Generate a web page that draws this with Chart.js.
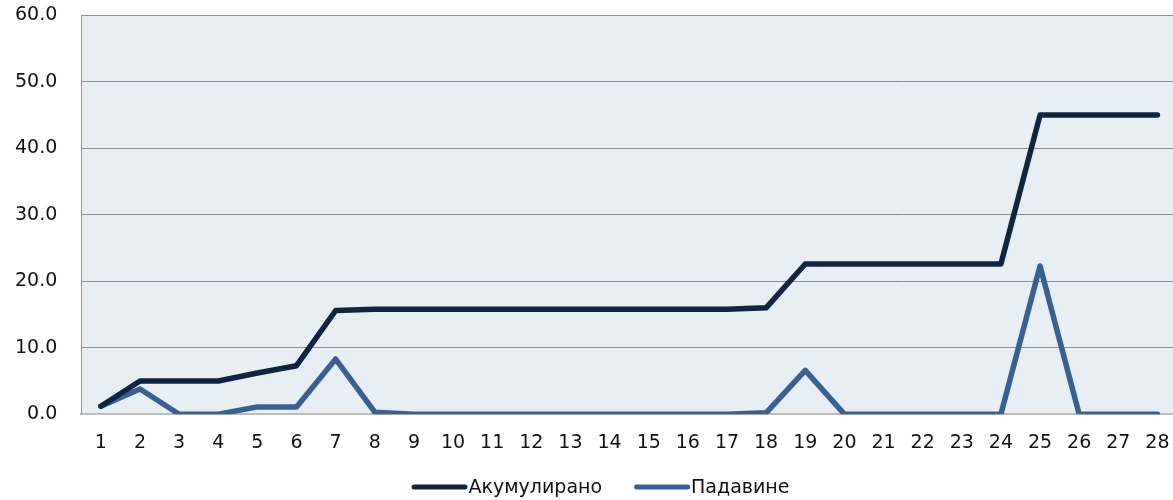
<!DOCTYPE html>
<html>
<head>
<meta charset="utf-8">
<script src="https://cdn.jsdelivr.net/npm/chart.js@4/dist/chart.umd.min.js"></script>
<style>
html,body{margin:0;padding:0;background:#fff;overflow:hidden;}
#wrap{width:1177px;height:500px;position:relative;}
</style>
</head>
<body>
<div id="wrap"><canvas id="c"></canvas></div>
<script>
const days = ['1','2','3','4','5','6','7','8','9','10','11','12','13','14','15','16','17','18','19','20','21','22','23','24','25','26','27','28'];
const accumulated = [1.2,5.0,5.0,5.0,6.2,7.3,15.6,15.8,15.8,15.8,15.8,15.8,15.8,15.8,15.8,15.8,15.8,16.0,22.6,22.6,22.6,22.6,22.6,22.6,45.0,45.0,45.0,45.0];
const precipitation = [1.2,3.8,0,0,1.1,1.1,8.3,0.3,0,0,0,0,0,0,0,0,0,0.2,6.6,0,0,0,0,0,22.3,0,0,0];
const seriesNames = ['Акумулирано','Падавине'];
const seriesColors = ['#10253f','#386092'];
const yTicks = [0,10,20,30,40,50,60];

const bgPlugin = {
  id:'plotBg',
  beforeDraw(chart){
    const {ctx, chartArea:a} = chart;
    ctx.save();
    ctx.fillStyle = '#e8eff4';
    ctx.fillRect(a.left, a.top, a.right - a.left, a.bottom - a.top);
    ctx.restore();
  }
};

// Legend drawn from the chart's own datasets
const legendPlugin = {
  id:'lineLegend',
  afterDraw(chart){
    const ctx = chart.ctx;
    const sample = 56, textGap = 1, itemGap = 32, y = 487;
    ctx.save();
    ctx.font = '19px "DejaVu Sans"';
    ctx.textBaseline = 'middle';
    const items = chart.data.datasets.map(d => ({label:d.label, color:d.borderColor, w:ctx.measureText(d.label).width}));
    let total = 0;
    items.forEach((it,i) => { total += sample + textGap + it.w + (i < items.length-1 ? itemGap : 0); });
    let x = chart.width/2 + 12 - total/2;
    items.forEach(it => {
      ctx.strokeStyle = it.color;
      ctx.lineWidth = 5;
      ctx.lineCap = 'round';
      ctx.beginPath();
      ctx.moveTo(x + 2.5, y);
      ctx.lineTo(x + sample - 2.5, y);
      ctx.stroke();
      x += sample + textGap;
      ctx.fillStyle = '#111';
      ctx.fillText(it.label, x, y + 1);
      x += it.w + itemGap;
    });
    ctx.restore();
  }
};

new Chart(document.getElementById('c'), {
  type:'line',
  data:{
    labels: days,
    datasets:[
      {label:seriesNames[0], data:accumulated, borderColor:seriesColors[0], backgroundColor:seriesColors[0], borderWidth:5.5, pointRadius:0, tension:0, borderCapStyle:'round', borderJoinStyle:'round'},
      {label:seriesNames[1], data:precipitation, borderColor:seriesColors[1], backgroundColor:seriesColors[1], borderWidth:5.5, pointRadius:0, tension:0, borderCapStyle:'round', borderJoinStyle:'round'}
    ]
  },
  plugins:[bgPlugin, legendPlugin],
  options:{
    responsive:true,
    maintainAspectRatio:false,
    animation:false,
    layout:{padding:{top:0,right:0,left:11,bottom:46}},
    plugins:{
      tooltip:{enabled:false},
      legend:{display:false}
    },
    scales:{
      x:{
        offset:true,
        grid:{display:false, drawTicks:true, tickLength:17, tickColor:'rgba(0,0,0,0)'},
        border:{display:true, color:'#bcbcbc', width:2},
        ticks:{font:{family:'DejaVu Sans', size:19}, color:'#111', padding:0, maxRotation:0, autoSkip:false}
      },
      y:{
        min:0, max:60,
        afterBuildTicks(scale){ scale.ticks = yTicks.map(v=>({value:v})); },
        grid:{color:'#8e8e8e', lineWidth:1, drawTicks:true, tickLength:20, tickColor:'rgba(0,0,0,0)'},
        border:{display:true, color:'#9a9a9a', width:1},
        ticks:{font:{family:'DejaVu Sans', size:19}, color:'#111', padding:4, callback:v=>Number(v).toFixed(1)}
      }
    }
  }
});
</script>
</body>
</html>
